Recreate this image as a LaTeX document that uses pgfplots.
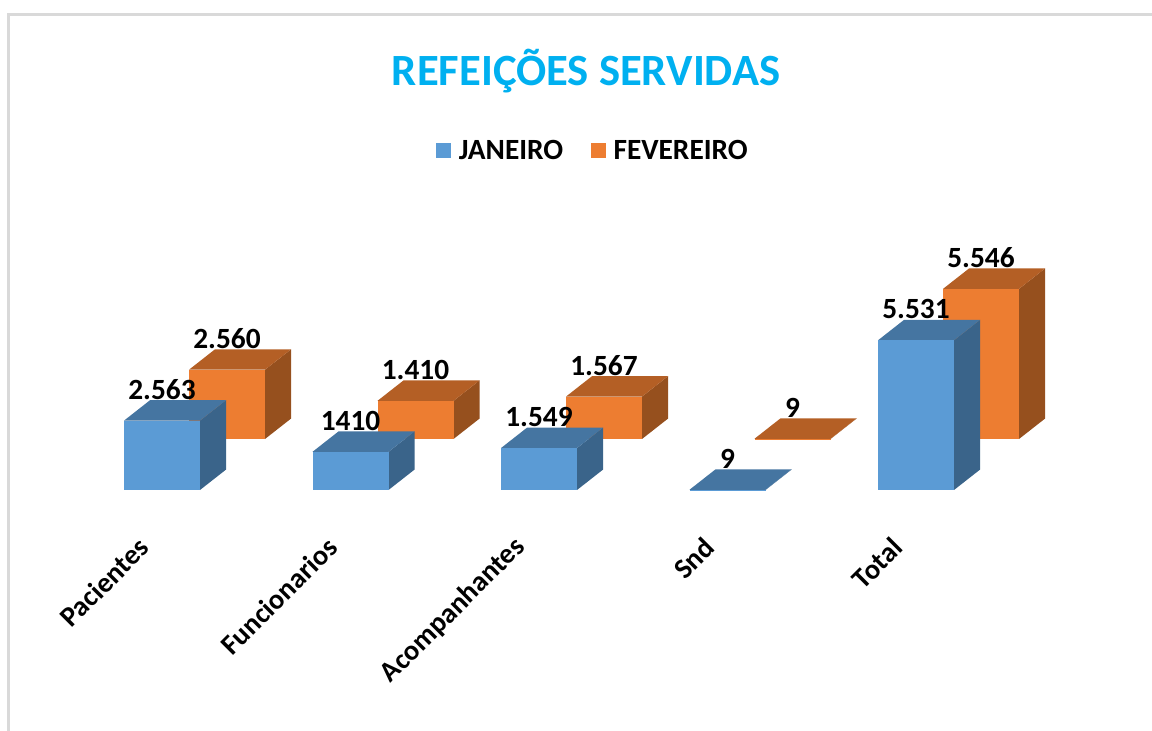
\documentclass[border=0pt]{standalone}
\usepackage{fontspec}
\setmainfont{Carlito}
\usepackage{pgfplots}
\pgfplotsset{compat=1.18}
\definecolor{janF}{HTML}{5B9BD5}
\definecolor{janT}{HTML}{4575A1}
\definecolor{janS}{HTML}{3A648A}
\definecolor{fevF}{HTML}{ED7D31}
\definecolor{fevT}{HTML}{B45F25}
\definecolor{fevS}{HTML}{96501E}
\definecolor{frameC}{HTML}{D9D9D9}
\definecolor{titleC}{HTML}{00B0F0}
% #1 category position, #2 series depth, #3 value, #4 colour stem, #5 label
\newcommand{\threedbar}[5]{%
  \pgfmathsetmacro{\xb}{#1+0.4032}%
  \pgfmathsetmacro{\yb}{#2+0.4}%
  \addplot3[forget plot,draw=none,fill=#4S] coordinates {(\xb,#2,0) (\xb,\yb,0) (\xb,\yb,#3) (\xb,#2,#3)};
  \addplot3[forget plot,draw=none,fill=#4T] coordinates {(#1,#2,#3) (\xb,#2,#3) (\xb,\yb,#3) (#1,\yb,#3)};
  \addplot3[forget plot,draw=none,fill=#4F] coordinates {(#1,#2,0) (\xb,#2,0) (\xb,#2,#3) (#1,#2,#3)};
  \node[font=\fontsize{22}{24}\selectfont\bfseries,yshift=23.5pt] at (axis cs:#1+0.2016,#2,#3) {#5};
}
\newcommand{\catlabel}[2]{%
  \node[font=\fontsize{21.3}{24}\selectfont\bfseries,rotate=45,anchor=east,yshift=-38.4pt,xshift=-14.1pt] at (axis cs:#1,0,0) {#2};
}
\begin{document}
\begin{tikzpicture}
\path[use as bounding box] (0,0) rectangle (864pt,548.25pt);
% frame, title, legend
\begin{axis}[
  at={(0,0)},anchor=south west,
  scale only axis,width=864pt,height=548.25pt,
  xmin=0,xmax=1152,ymin=0,ymax=731,y dir=reverse,
  hide axis,clip=false,
  title={\fontsize{33.5}{38}\selectfont\bfseries\color{titleC}REFEIÇÕES SERVIDAS},
  title style={at={(axis description cs:0.5087,0.892)},anchor=center},
  legend columns=2,
  legend style={at={(axis description cs:0.515,0.7935)},anchor=center,draw=none,fill=none,
    font=\fontsize{22}{24}\selectfont\bfseries,
    /tikz/every even column/.append style={column sep=18.75pt}},
  legend cell align=left,
  legend image code/.code={\fill[#1] (0pt,-5.6pt) rectangle (11.25pt,5.6pt);\path (15pt,0pt);},
]
\addlegendimage{fill=janF,draw=none}
\addlegendentry{JANEIRO}
\addlegendimage{fill=fevF,draw=none}
\addlegendentry{FEVEREIRO}
\fill[frameC] (axis cs:7,13) rectangle (axis cs:1152,16);
\fill[frameC] (axis cs:7,13) rectangle (axis cs:10,731);
\end{axis}
% bars: x = category, y = series depth, z = value
\begin{axis}[
  at={(93pt,180.75pt)},anchor=origin,
  x={(141.375pt,0pt)},y={(48.75pt,38.25pt)},z={(0pt,0.0203pt)},
  xmin=-0.5,xmax=5,ymin=-0.1,ymax=2,zmin=0,zmax=6000,
  hide axis,clip=false,
]
\threedbar{0}{1}{2560}{fev}{2.560}
\threedbar{1}{1}{1410}{fev}{1.410}
\threedbar{2}{1}{1567}{fev}{1.567}
\threedbar{3}{1}{9}{fev}{9}
\threedbar{4}{1}{5546}{fev}{5.546}
\threedbar{0}{0}{2563}{jan}{2.563}
\threedbar{1}{0}{1410}{jan}{1410}
\threedbar{2}{0}{1549}{jan}{1.549}
\threedbar{3}{0}{9}{jan}{9}
\threedbar{4}{0}{5531}{jan}{5.531}
\catlabel{0}{Pacientes}
\catlabel{1}{Funcionarios}
\catlabel{2}{Acompanhantes}
\catlabel{3}{Snd}
\catlabel{4}{Total}
\end{axis}
\end{tikzpicture}
\end{document}
